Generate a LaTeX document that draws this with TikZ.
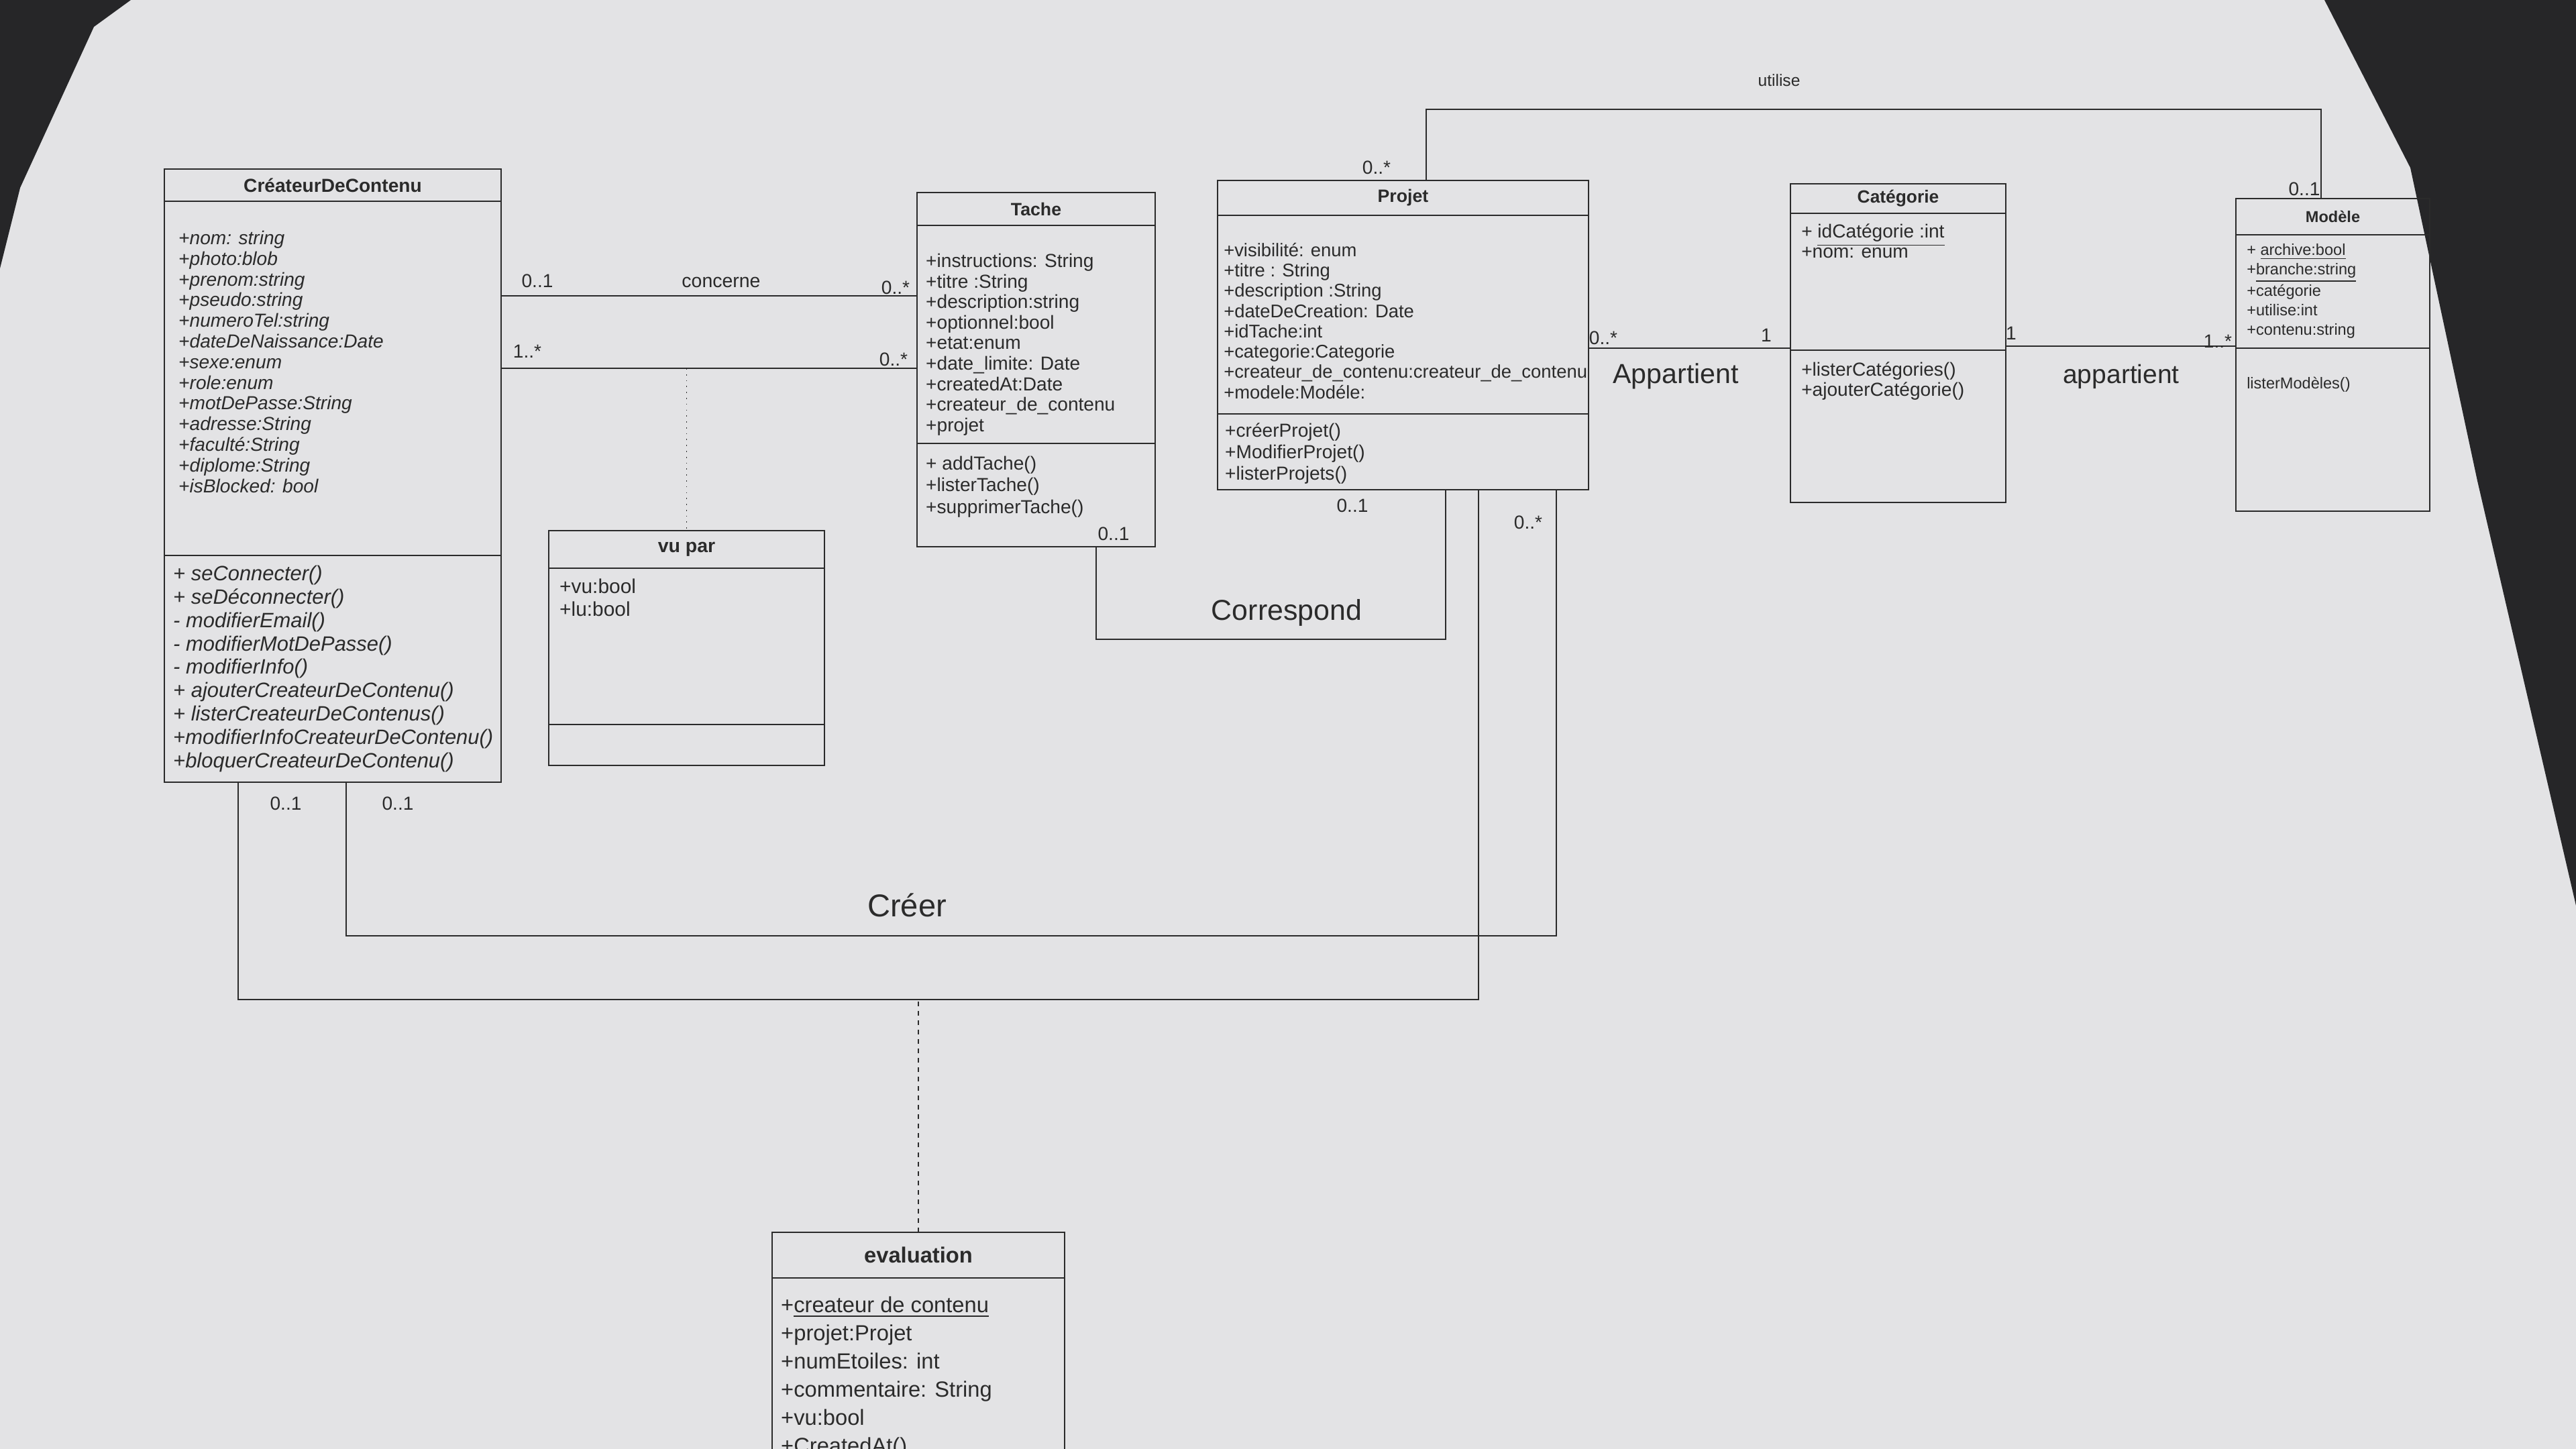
\documentclass[tikz,border=0pt]{standalone}
\usepackage{fontspec}
\setmainfont{Liberation Sans}
\usetikzlibrary{positioning}
\definecolor{paper}{HTML}{E3E3E5}
\definecolor{ink}{HTML}{2B2B2B}
\definecolor{desk}{HTML}{262628}

\begin{document}
\begin{tikzpicture}[x=1mm, y=1mm, line width=0.7pt, color=ink,
    hdr/.style={draw, outer sep=0, inner sep=0, anchor=north west, font=\bfseries\fontsize{#1}{#1}\selectfont},
    comp/.style={draw, outer sep=0, inner sep=0},
    txt/.style={anchor=north west, align=left, inner sep=0},
    mult/.style={inner sep=0, font=\fontsize{8}{9}\selectfont},
    rel/.style={inner sep=0, font=\fontsize{#1}{#1}\selectfont}]

        \useasboundingbox (0,0) rectangle (384,-216);
        \clip (0,0) rectangle (384,-216);
        \fill[paper] (0,0) rectangle (384,-216);
        \fill[desk] (346.5,0) -- (384,0) -- (384,-135) -- (369.3,-71.7) -- (359.3,-25) -- cycle;
        \fill[desk] (0,0) -- (19.5,0) -- (14,-4) -- (3,-28) -- (0,-40) -- cycle;

        % CreateurDeContenu
        \draw node[hdr=8, minimum width=50.2mm, minimum height=4.8mm] (cdc) at (24.5,-25.2) {CréateurDeContenu};
        \draw node[comp, minimum width=50.2mm, minimum height=52.8mm, below=0 of cdc] (cdcA) {};
        \draw node[comp, minimum width=50.2mm, minimum height=33.8mm, below=0 of cdcA] (cdcM) {};
        \draw node[txt, font=\itshape\fontsize{8}{8.76}\selectfont] (cdcAt) at ([shift={(2,-4.3)}]cdcA.north west)
            {+nom: string\\+photo:blob\\+prenom:string\\+pseudo:string\\+numeroTel:string\\+dateDeNaissance:Date\\+sexe:enum\\+role:enum\\+motDePasse:String\\+adresse:String\\+faculté:String\\+diplome:String\\+isBlocked: bool};
        \draw node[txt, font=\itshape\fontsize{8.8}{9.9}\selectfont] (cdcMt) at ([shift={(1.2,-1.4)}]cdcM.north west)
            {+ seConnecter()\\+ seDéconnecter()\\- modifierEmail()\\- modifierMotDePasse()\\- modifierInfo()\\+ ajouterCreateurDeContenu()\\+ listerCreateurDeContenus()\\+modifierInfoCreateurDeContenu()\\+bloquerCreateurDeContenu()};

        % Tache
        \draw node[hdr=7.6, minimum width=35.5mm, minimum height=4.9mm] (tache) at (136.7,-28.7) {Tache};
        \draw node[comp, minimum width=35.5mm, minimum height=32.5mm, below=0 of tache] (tacheA) {};
        \draw node[comp, minimum width=35.5mm, minimum height=15.4mm, below=0 of tacheA] (tacheM) {};
        \draw node[txt, font=\fontsize{8}{8.7}\selectfont] (tacheAt) at ([shift={(1.2,-4.1)}]tacheA.north west)
            {+instructions: String\\+titre :String\\+description:string\\+optionnel:bool\\+etat:enum\\+date\_limite: Date\\+createdAt:Date\\+createur\_de\_contenu\\+projet};
        \draw node[txt, font=\fontsize{8}{9.2}\selectfont] (tacheMt) at ([shift={(1.2,-1.8)}]tacheM.north west)
            {+ addTache()\\+listerTache()\\+supprimerTache()};

        % Projet
        \draw node[hdr=7.6, minimum width=55.3mm, minimum height=5.2mm] (projet) at (181.5,-26.9) {Projet};
        \draw node[comp, minimum width=55.3mm, minimum height=29.6mm, below=0 of projet] (projetA) {};
        \draw node[comp, minimum width=55.3mm, minimum height=11.3mm, below=0 of projetA] (projetM) {};
        \draw node[txt, font=\fontsize{7.8}{8.6}\selectfont] (projetAt) at ([shift={(0.8,-4.0)}]projetA.north west)
            {+visibilité: enum\\+titre : String\\+description :String\\+dateDeCreation: Date\\+idTache:int\\+categorie:Categorie\\+createur\_de\_contenu:createur\_de\_contenu\\+modele:Modéle:};
        \draw node[txt, font=\fontsize{8}{9}\selectfont] (projetMt) at ([shift={(1,-1.3)}]projetM.north west)
            {+créerProjet()\\+ModifierProjet()\\+listerProjets()};

        % Categorie
        \draw node[hdr=7.5, minimum width=32.1mm, minimum height=4.4mm] (cat) at (266.9,-27.4) {Catégorie};
        \draw node[comp, minimum width=32.1mm, minimum height=20.4mm, below=0 of cat] (catA) {};
        \draw node[comp, minimum width=32.1mm, minimum height=22.7mm, below=0 of catA] (catM) {};
        \draw node[txt, font=\fontsize{8}{8.5}\selectfont] (catAt) at ([shift={(1.5,-1.5)}]catA.north west)
            {+ \underline{idCatégorie :int}\\+nom: enum};
        \draw node[txt, font=\fontsize{8}{8.5}\selectfont] (catMt) at ([shift={(1.5,-1.7)}]catM.north west)
            {+listerCatégories()\\+ajouterCatégorie()};

        % Modele
        \draw node[hdr=6.7, minimum width=28.9mm, minimum height=5.4mm] (modele) at (333.3,-29.6) {Modèle};
        \draw node[comp, minimum width=28.9mm, minimum height=16.9mm, below=0 of modele] (modeleA) {};
        \draw node[comp, minimum width=28.9mm, minimum height=24.3mm, below=0 of modeleA] (modeleM) {};
        \draw node[txt, font=\fontsize{6.7}{8.2}\selectfont] (modeleAt) at ([shift={(1.5,-1.2)}]modeleA.north west)
            {+ \underline{archive:bool}\\+\underline{branche:string}\\+catégorie\\+utilise:int\\+contenu:string};
        \draw node[txt, font=\fontsize{6.7}{8.2}\selectfont] (modeleMt) at ([shift={(1.5,-4.2)}]modeleM.north west)
            {listerModèles()};

        % vu par
        \draw node[hdr=8.1, minimum width=41.1mm, minimum height=5.6mm] (vupar) at (81.8,-79.1) {vu par};
        \draw node[comp, minimum width=41.1mm, minimum height=23.3mm, below=0 of vupar] (vuparA) {};
        \draw node[comp, minimum width=41.1mm, minimum height=6.1mm, below=0 of vuparA] (vuparM) {};
        \draw node[txt, font=\fontsize{8.5}{9.7}\selectfont] (vuparAt) at ([shift={(1.5,-1.5)}]vuparA.north west)
            {+vu:bool\\+lu:bool};

        % evaluation
        \draw node[hdr=9.3, minimum width=43.6mm, minimum height=6.8mm] (eval) at (115.1,-183.7) {evaluation};
        \draw node[comp, minimum width=43.6mm, minimum height=40mm, below=0 of eval] (evalA) {};
        \draw node[txt, font=\fontsize{9.3}{11.9}\selectfont] (evalAt) at ([shift={(1.2,-2.7)}]evalA.north west)
            {+\underline{createur de contenu}\\+projet:Projet\\+numEtoiles: int\\+commentaire: String\\+vu:bool\\+CreatedAt()};

        % routes
        \coordinate (lc) at (0,-44.1);
        \coordinate (lv) at (0,-54.9);
        \coordinate (la) at (0,-51.9);
        \coordinate (lb) at (0,-51.6);
        \coordinate (u1) at (212.6,-16.3);
        \coordinate (u2) at (346,-16.3);
        \coordinate (k1) at (163.4,-95.3);
        \coordinate (k2) at (215.5,-95.3);
        \coordinate (a1) at (51.6,-139.5);
        \coordinate (a2) at (232,-139.5);
        \coordinate (b1) at (35.5,-149);
        \coordinate (b2) at (220.4,-149);

        \draw (cdcA.east |- lc) -- (tacheA.west |- lc);
        \draw (cdcA.east |- lv) -- (tacheA.west |- lv);
        \draw[dotted, line width=0.5pt] (vupar.north |- lv) -- (vupar.north);
        \draw (projetA.east |- la) -- (catA.west |- la);
        \draw (catA.east |- lb) -- (modeleA.west |- lb);
        \draw (projet.north -| u1) -- (u1) -- (u2) -- (modele.north -| u2);
        \draw (tacheM.south -| k1) -- (k1) -- (k2) -- (projetM.south -| k2);
        \draw (cdcM.south -| a1) -- (a1) -- (a2) -- (projetM.south -| a2);
        \draw (cdcM.south -| b1) -- (b1) -- (b2) -- (projetM.south -| b2);
        \draw[dashed, line width=0.4pt, dash pattern=on 2pt off 2pt] (eval.north) -- (eval.north |- b1);

        \foreach \x/\y/\lab [count=\i] in {80.1/-41.9/0..1, 133.5/-42.9/0..*, 78.6/-52.4/1..*, 133.2/-53.6/0..*,
            239/-50.4/0..*, 263.3/-50.0/1, 299.8/-49.7/1, 330.6/-50.9/1..*, 205.2/-25.0/0..*, 343.5/-28.2/0..1,
            166/-79.6/0..1, 201.6/-75.4/0..1, 227.8/-77.9/0..*, 42.6/-119.8/0..1, 59.3/-119.8/0..1}
        \draw node[mult] (m\i) at (\x,\y) {\lab};

        \draw node[rel=8.1] (concerne) at (107.5,-42.1) {concerne};
        \draw node[rel=7] (utilise) at (265.2,-12.0) {utilise};
        \draw node[rel=11.7] (appA) at (249.8,-56.1) {Appartient};
        \draw node[rel=11.1] (appB) at (316.2,-56.1) {appartient};
        \draw node[rel=12.2] (corr) at (191.8,-91.3) {Correspond};
        \draw node[rel=13.4] (creer) at (135.2,-134.9) {Créer};
      \end{tikzpicture}
\end{document}
